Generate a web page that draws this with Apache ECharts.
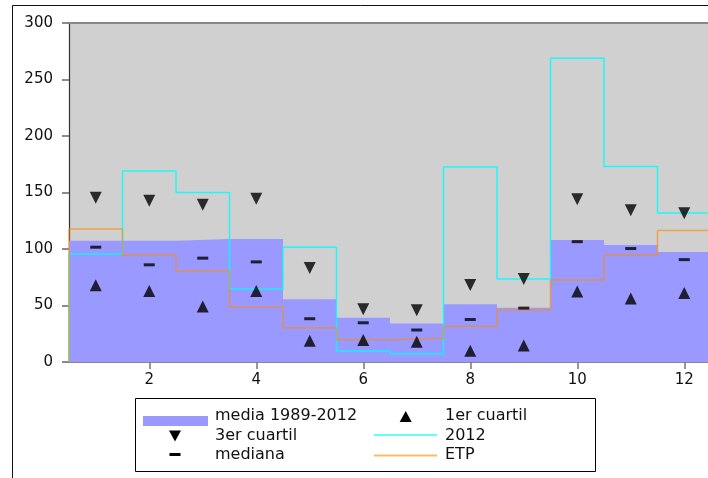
<!DOCTYPE html>
<html>
<head>
<meta charset="utf-8">
<script src="https://cdn.jsdelivr.net/npm/echarts@6/dist/echarts.min.js"></script>
<style>
html,body{margin:0;padding:0;background:#fff;}
#chart{width:708px;height:478px;}
</style>
</head>
<body>
<div id="chart"></div>
<script>
// ---- data ----
const months = [1, 2, 3, 4, 5, 6, 7, 8, 9, 10, 11, 12];
const media = [107.4, 107.4, 108.9, 108.9, 55.6, 39.1, 34.1, 51.2, 48.0, 108.0, 103.6, 97.4];
const cuartil3 = [145.4, 142.8, 139.2, 144.5, 83.2, 46.6, 45.7, 68.1, 73.5, 144.0, 134.3, 131.6];
const mediana = [101.6, 86.0, 91.9, 88.6, 38.3, 34.7, 28.3, 37.6, 47.7, 106.5, 100.4, 90.6];
const cuartil1 = [68.0, 62.8, 49.2, 62.8, 18.8, 19.4, 17.9, 9.9, 14.6, 62.4, 56.2, 61.0];
const y2012 = [95.6, 169.0, 150.0, 64.6, 101.5, 9.7, 7.4, 172.5, 73.5, 268.8, 173.0, 131.9];
const etp = [117.7, 94.4, 80.5, 48.4, 30.4, 19.7, 21.0, 31.6, 46.0, 72.6, 94.5, 116.3];
const xTicks = [2, 4, 6, 8, 10, 12];
const yMin = 0, yMax = 300, yStep = 50;
const legendNames = ['media 1989-2012', '3er cuartil', 'mediana', '1er cuartil', '2012', 'ETP'];

// ---- helpers ----
function stepData(vals, closeToZero) {
  const d = [];
  if (closeToZero) d.push([months[0] - 0.5, 0]);
  months.forEach((m, i) => d.push([m - 0.5, vals[i]]));
  d.push([months[months.length - 1] + 0.5, vals[vals.length - 1]]);
  if (closeToZero) d.push([months[months.length - 1] + 0.5, 0]);
  return d;
}
function pts(vals) { return months.map((m, i) => [m, vals[i]]); }

const FONT = 'DejaVu Sans';
const chart = echarts.init(document.getElementById('chart'), null, {renderer: 'canvas'});

const option = {
  animation: false,
  backgroundColor: '#ffffff',
  grid: {left: 69, top: 23, right: -3, bottom: 116, outerBoundsMode: 'none', containLabel: false,
         show: true, backgroundColor: '#d0d0d0', borderWidth: 0},
  xAxis: [{
    type: 'value', min: 0.5, max: 12.5, position: 'bottom',
    axisLine: {show: true, onZero: false, lineStyle: {color: '#888888', width: 2}},
    axisTick: {show: true, customValues: xTicks, length: 7, lineStyle: {color: '#777777', width: 1.5}},
    axisLabel: {show: true, customValues: xTicks, fontSize: 15, fontFamily: FONT, color: '#111', margin: 11},
    splitLine: {show: false}
  }, {
    type: 'value', min: 0.5, max: 12.5, position: 'top',
    axisLine: {show: true, onZero: false, lineStyle: {color: '#888888', width: 2}},
    axisTick: {show: false}, axisLabel: {show: false}, splitLine: {show: false}
  }],
  yAxis: {
    type: 'value', min: yMin, max: yMax, interval: yStep,
    axisLine: {show: true, lineStyle: {color: '#333333', width: 1.2}},
    axisTick: {show: true, length: 7, lineStyle: {color: '#666666', width: 1.5}},
    axisLabel: {fontSize: 15, fontFamily: FONT, color: '#111', margin: 16},
    splitLine: {show: false}
  },
  series: [
    {
      name: legendNames[0], type: 'line', step: 'end', data: stepData(media, false),
      symbol: 'none', lineStyle: {width: 0}, areaStyle: {color: '#9999ff', opacity: 1}, z: 1
    },
    {
      name: legendNames[4], type: 'line', step: 'end', data: stepData(y2012, true),
      symbol: 'none', lineStyle: {color: '#00ffff', width: 1.5, opacity: 0.85}, z: 2
    },
    {
      name: legendNames[5], type: 'line', step: 'end', data: stepData(etp, true),
      symbol: 'none', lineStyle: {color: '#ff8c00', width: 1.5, opacity: 0.65}, z: 3
    },
    {
      name: legendNames[1], type: 'scatter', data: pts(cuartil3),
      symbol: 'triangle', symbolRotate: 180, symbolSize: 12, itemStyle: {color: '#000'}, z: 5
    },
    {
      name: legendNames[3], type: 'scatter', data: pts(cuartil1),
      symbol: 'triangle', symbolSize: 12, itemStyle: {color: '#000'}, z: 5
    },
    {
      name: legendNames[2], type: 'scatter', data: pts(mediana),
      symbol: 'rect', symbolSize: [11, 3], itemStyle: {color: '#000'}, z: 5
    }
  ],
  graphic: [
    {type: 'rect', silent: true, z: 0, shape: {x: 12.5, y: 5.5, width: 900, height: 700}, style: {fill: 'none', stroke: '#111', lineWidth: 1}},
    {type: 'group', z: 10, children: [
      {type: 'rect', shape: {x: 135.5, y: 398.5, width: 460, height: 73}, style: {fill: '#fff', stroke: '#000', lineWidth: 1}},
      {type: 'rect', shape: {x: 143, y: 416, width: 65, height: 10}, style: {fill: '#9999ff'}},
      {type: 'text', x: 215, y: 416, style: {text: legendNames[0], font: '16px "DejaVu Sans"', fill: '#111', verticalAlign: 'middle'}},
      {type: 'polygon', shape: {points: [[169, 430.5], [181, 430.5], [175, 441.5]]}, style: {fill: '#000'}},
      {type: 'text', x: 215, y: 435.5, style: {text: legendNames[1], font: '16px "DejaVu Sans"', fill: '#111', verticalAlign: 'middle'}},
      {type: 'rect', shape: {x: 169.5, y: 453, width: 11, height: 3}, style: {fill: '#000'}},
      {type: 'text', x: 215, y: 455, style: {text: legendNames[2], font: '16px "DejaVu Sans"', fill: '#111', verticalAlign: 'middle'}},
      {type: 'polygon', shape: {points: [[399.7, 422], [411.7, 422], [405.7, 411]]}, style: {fill: '#000'}},
      {type: 'text', x: 445, y: 416, style: {text: legendNames[3], font: '16px "DejaVu Sans"', fill: '#111', verticalAlign: 'middle'}},
      {type: 'line', shape: {x1: 374, y1: 435, x2: 437, y2: 435}, style: {stroke: '#00ffff', lineWidth: 1.5, opacity: 0.85}},
      {type: 'text', x: 445, y: 435.5, style: {text: legendNames[4], font: '16px "DejaVu Sans"', fill: '#111', verticalAlign: 'middle'}},
      {type: 'line', shape: {x1: 374, y1: 455.5, x2: 437, y2: 455.5}, style: {stroke: '#ff8c00', lineWidth: 2, opacity: 0.6}},
      {type: 'text', x: 445, y: 455, style: {text: legendNames[5], font: '16px "DejaVu Sans"', fill: '#111', verticalAlign: 'middle'}}
    ]}
  ]
};
chart.setOption(option);
</script>
</body>
</html>
